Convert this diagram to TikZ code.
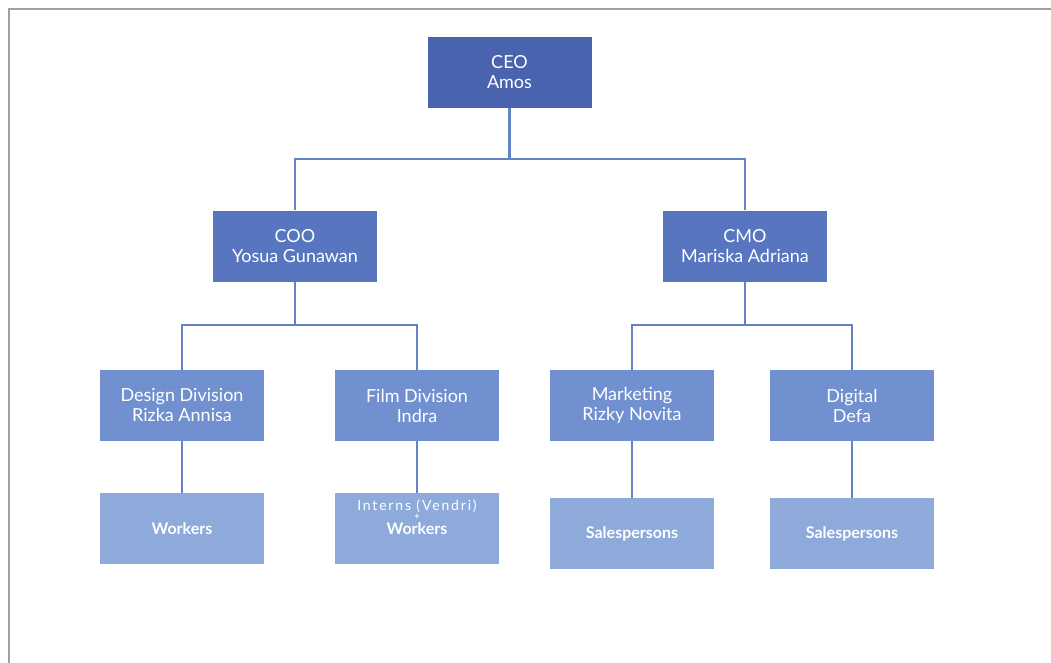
\documentclass[tikz,border=0pt]{standalone}
\usepackage{fontspec}
\setmainfont{Lato}
\usepackage{tikz}
\usetikzlibrary{positioning}

\definecolor{boxone}{HTML}{4A63AE}
\definecolor{boxtwo}{HTML}{5876BF}
\definecolor{boxthree}{HTML}{7190CF}
\definecolor{boxfour}{HTML}{8DAADB}
\definecolor{linkblue}{HTML}{6384C4}
\definecolor{framegray}{HTML}{A0A0A0}

\tikzset{
  post/.style={rectangle, minimum width=164pt, minimum height=71pt, inner sep=0pt,
    text=white, align=center, font=\fontsize{18}{20}\selectfont},
  staff/.style={post, font=\bfseries\fontsize{16}{18}\selectfont},
  link/.style={linkblue, line width=2.2pt}
}

\begin{document}
\begin{tikzpicture}[x=1pt, y=-1pt]
      \useasboundingbox[fill=white] (0,0) rectangle (1051,663);
      \draw[framegray, line width=2pt] (8.5,663) -- (8.5,9.5) -- (1051,9.5);

      \node[post, fill=boxone] (ceo) at (509.5,72.5) {CEO\\Amos};
      \node[post, fill=boxtwo] (coo) at (295,246) {COO\\Yosua Gunawan};
      \node[post, fill=boxtwo] (cmo) at (745,246) {CMO\\Mariska Adriana};

      \node[post, fill=boxthree] (design) at (182,405.5) {Design Division\\Rizka Annisa};
      \node[post, fill=boxthree] (film) at (417,405.5) {Film Division\\Indra};
      \node[post, fill=boxthree] (marketing) at (632,405.5) {Marketing\\Rizky Novita};
      \node[post, fill=boxthree] (digital) at (852,405.5) {Digital\\Defa};

      \node[staff, fill=boxfour] (workers) at (182,528.5) {Workers};
      \node[staff, fill=boxfour] (interns) at (417,528.5)
        {{\mdseries\fontsize{14}{15}\selectfont\addfontfeatures{LetterSpace=13}Interns (Vendri)}\\[-9pt]
         {\fontsize{9}{9}\selectfont +}\\[-3pt]Workers\\[0pt]\strut};
      \node[staff, fill=boxfour] (salesa) at (632,533.5) {Salespersons};
      \node[staff, fill=boxfour] (salesb) at (852,533.5) {Salespersons};

      \coordinate (topbus) at (0,159);
      \coordinate (leftbus) at (0,325);
      \coordinate (rightbus) at (0,325);

      \draw[link] (ceo.south) -- (ceo.south|-topbus) -| (coo.north);
      \draw[link] (ceo.south|-topbus) -| (cmo.north);
      \draw[link] (coo.south) -- (coo.south|-leftbus) -| (design.north);
      \draw[link] (coo.south|-leftbus) -| (film.north);
      \draw[link] (cmo.south) -- (cmo.south|-rightbus) -| (marketing.north);
      \draw[link] (cmo.south|-rightbus) -| (digital.north);

      \draw[link] (design) -- (workers);
      \draw[link] (film) -- (interns);
      \draw[link] (marketing) -- (salesa);
      \draw[link] (digital) -- (salesb);
\end{tikzpicture}
\end{document}
